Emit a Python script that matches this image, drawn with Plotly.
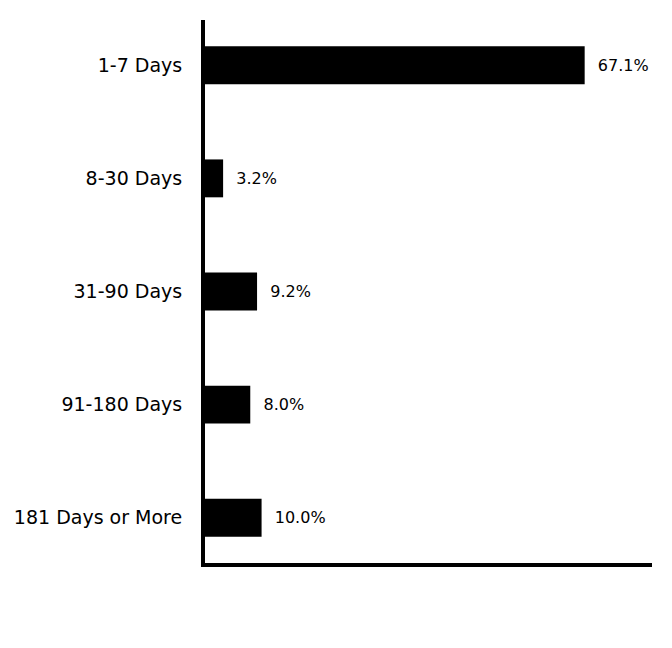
import plotly.graph_objects as go

categories = ["1-7 Days", "8-30 Days", "31-90 Days", "91-180 Days", "181 Days or More"]
values = [67.1, 3.2, 9.2, 8.0, 10.0]

fig = go.Figure(go.Bar(
    x=values,
    y=categories,
    orientation="h",
    marker=dict(color="black", line=dict(width=0)),
    width=0.335,
    text=[f"{v:.1f}%" for v in values],
    texttemplate="  %{text}",
    textposition="outside",
    textfont=dict(family="DejaVu Sans", size=16, color="black"),
    cliponaxis=False,
))

fig.update_layout(
    width=672, height=648,
    margin=dict(l=197, r=28, t=12, b=93, autoexpand=False),
    plot_bgcolor="white", paper_bgcolor="white",
    showlegend=False,
    font=dict(family="DejaVu Sans", color="black"),
    xaxis=dict(range=[0, 79.0], showticklabels=False, showgrid=False, zeroline=False,
               showline=True, linecolor="black", linewidth=4, ticks="", automargin=False),
    yaxis=dict(autorange=False, range=[4.4, -0.4], type="category", showgrid=False, zeroline=False,
               showline=True, linecolor="black", linewidth=4, ticks="", automargin=False,
               ticklabelstandoff=15, tickfont=dict(family="DejaVu Sans", size=19, color="black")),
)

fig.write_html("out.html")
